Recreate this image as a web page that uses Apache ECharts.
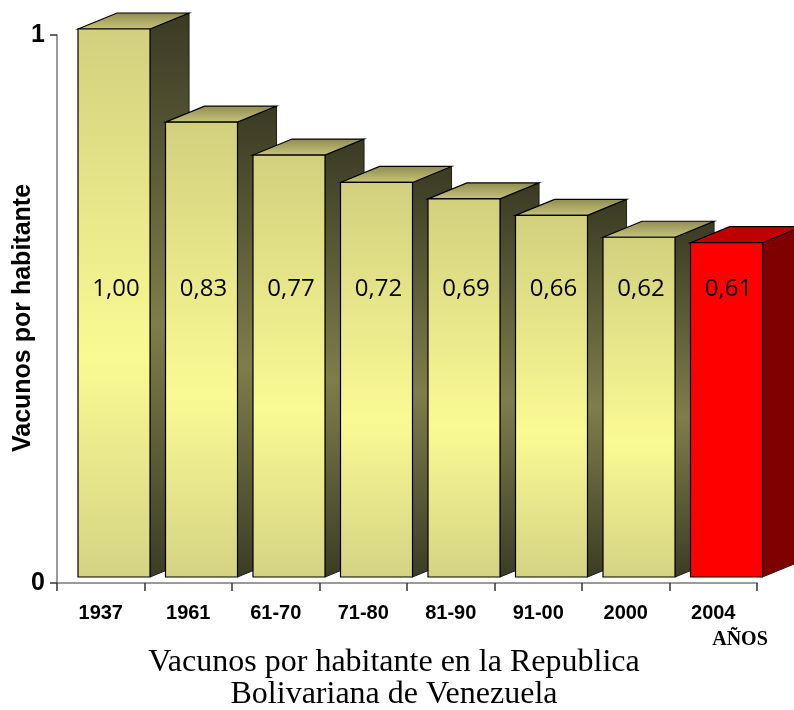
<!DOCTYPE html>
<html>
<head>
<meta charset="utf-8">
<script src="https://cdn.jsdelivr.net/npm/echarts@6/dist/echarts.min.js"></script>
<style>
html,body{margin:0;padding:0;background:#fff;}
#chart{width:794px;height:710px;}
</style>
</head>
<body>
<div id="chart"></div>
<script>
// ---- data ----
const categories = ['1937', '1961', '61-70', '71-80', '81-90', '91-00', '2000', '2004'];
const values = [1.00, 0.83, 0.77, 0.72, 0.69, 0.66, 0.62, 0.61];
const yTicks = [0, 1];
const highlightCategory = '2004';
const yTitle = 'Vacunos por habitante';
const xTitle = 'AÑOS';
const chartTitle = ['Vacunos por habitante en la Republica', 'Bolivariana de Venezuela'];

const chart = echarts.init(document.getElementById('chart'), null, {renderer: 'canvas'});
const LG = echarts.graphic.LinearGradient;

function faceColors(hl) {
  if (hl) {
    return {front: '#ff0000', side: '#800000', top: '#c00000'};
  }
  return {
    front: new LG(0, 0, 0, 1, [
      {offset: 0, color: '#d2d07e'},
      {offset: 0.6, color: '#fafa94'},
      {offset: 1, color: '#d4d383'}
    ]),
    side: new LG(0, 0, 0, 1, [
      {offset: 0, color: '#3a3a24'},
      {offset: 0.55, color: '#7f7d4b'},
      {offset: 1, color: '#3c3c26'}
    ]),
    top: new LG(0, 0, 0, 1, [
      {offset: 0, color: '#8e8c50'},
      {offset: 1, color: '#c9c57d'}
    ])
  };
}

function renderBar(params, api) {
  const i = api.value(0);
  const v = api.value(1);
  const base = api.coord([i, 0]);
  const top = api.coord([i, v]);
  const bw = api.size([1, 0])[0];
  const x0 = base[0] - 0.26 * bw;
  const w = 0.823 * bw;
  const yb = base[1] - 6;
  const yt = top[1] - 6;
  const dx = 0.446 * bw;
  const dy = 16;
  const hl = categories[i] === highlightCategory;
  const c = faceColors(hl);
  const x1 = x0 + w;
  const labelY = base[1] - 294;
  return {
    type: 'group',
    children: [
      {
        type: 'polygon',
        shape: {points: [[x1, yt], [x1 + dx, yt - dy], [x1 + dx, yb - dy], [x1, yb]]},
        style: {fill: c.side, stroke: '#1e1e14', lineWidth: 1}
      },
      {
        type: 'polygon',
        shape: {points: [[x0, yt], [x0 + dx, yt - dy], [x1 + dx, yt - dy], [x1, yt]]},
        style: {fill: c.top, stroke: '#000', lineWidth: 1.2}
      },
      {
        type: 'rect',
        shape: {x: x0, y: yt, width: w, height: yb - yt},
        style: {fill: c.front, stroke: '#000', lineWidth: 1.2}
      },
      {
        type: 'text',
        x: x0 + w / 2 + 2,
        y: labelY,
        style: {
          text: v.toFixed(2).replace('.', ','),
          fill: '#000',
          font: '24px "Open Sans"',
          align: 'center',
          verticalAlign: 'middle'
        }
      }
    ]
  };
}

const option = {
  animation: false,
  backgroundColor: '#fff',
  grid: {left: 57, right: 37, top: 35, bottom: 127, containLabel: false},
  xAxis: {
    type: 'category',
    data: categories,
    boundaryGap: true,
    axisLine: {lineStyle: {color: '#7a7a7a', width: 1.5}},
    axisTick: {show: true, length: 8, lineStyle: {color: '#333', width: 1.5}},
    axisLabel: {
      color: '#000',
      fontFamily: '"Liberation Sans", Arial, sans-serif',
      fontWeight: 'bold',
      fontSize: 20,
      margin: 20
    },
    splitLine: {show: false}
  },
  yAxis: {
    type: 'value',
    min: yTicks[0],
    max: yTicks[yTicks.length - 1],
    interval: 1,
    axisLine: {show: true, lineStyle: {color: '#7a7a7a', width: 1.5}},
    axisTick: {show: true, length: 7, lineStyle: {color: '#333', width: 1.5}},
    axisLabel: {
      color: '#000',
      fontFamily: '"Liberation Sans", Arial, sans-serif',
      fontWeight: 'bold',
      fontSize: 25,
      margin: 12
    },
    splitLine: {show: false}
  },
  series: [{
    type: 'custom',
    clip: false,
    renderItem: renderBar,
    data: values.map((v, i) => [i, v]),
    encode: {x: 0, y: 1}
  }],
  graphic: [
    {
      type: 'text',
      x: 23,
      y: 318,
      rotation: Math.PI / 2,
      style: {
        text: yTitle,
        fill: '#000',
        font: 'bold 25px "Liberation Sans", Arial, sans-serif',
        align: 'center',
        verticalAlign: 'middle'
      }
    },
    {
      type: 'text',
      x: 740,
      y: 640,
      style: {
        text: xTitle,
        fill: '#000',
        font: 'bold 20px "Liberation Serif", "Times New Roman", serif',
        align: 'center',
        verticalAlign: 'middle'
      }
    },
    {
      type: 'text',
      x: 394,
      y: 663,
      style: {
        text: chartTitle[0],
        fill: '#000',
        font: '32px "Liberation Serif", "Times New Roman", serif',
        align: 'center',
        verticalAlign: 'middle'
      }
    },
    {
      type: 'text',
      x: 394,
      y: 695,
      style: {
        text: chartTitle[1],
        fill: '#000',
        font: '32px "Liberation Serif", "Times New Roman", serif',
        align: 'center',
        verticalAlign: 'middle'
      }
    }
  ]
};
chart.setOption(option);
</script>
</body>
</html>
